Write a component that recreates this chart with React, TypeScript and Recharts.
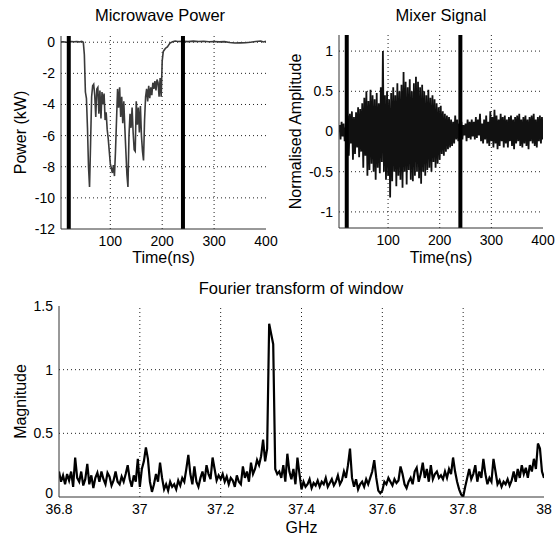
import React from 'react';
import {
  LineChart, Line, XAxis, YAxis, ReferenceLine,
} from 'recharts';

// Microwave power (kW) vs time (ns)
const POWER_T = [
  5, 10, 15, 20, 25, 30, 35, 40, 45, 48, 50, 52, 54, 56, 58, 60, 62, 64, 66, 68,
  70, 72, 74, 76, 78, 80, 82, 84, 86, 88, 90, 92, 94, 96, 98, 100, 102, 104, 106, 108,
  110, 112, 114, 116, 118, 120, 122, 124, 126, 128, 130, 132, 134, 136, 138, 140, 142, 144, 146, 148,
  150, 152, 154, 156, 158, 160, 162, 164, 166, 168, 170, 172, 174, 176, 178, 180, 182, 184, 186, 188,
  190, 192, 194, 196, 198, 200, 202, 204, 206, 208, 210, 212, 215, 220, 225, 230, 240, 250, 260, 270,
  280, 290, 300, 310, 320, 330, 340, 350, 360, 370, 380, 390, 395, 400,
];
const POWER_KW = [
  0.02, 0.03, 0.0, 0.02, 0.05, 0.03, 0.04, 0.02, 0.05, 0.0, -0.8, -3.2, -3.6, -5.5, -8.0, -9.3, -6.5, -3.5, -2.8, -2.7,
  -3.4, -4.8, -3.0, -2.9, -4.6, -3.1, -4.9, -3.2, -4.0, -3.3, -5.0, -4.5, -5.6, -6.2, -7.0, -7.8, -8.1, -8.4, -7.9, -8.6,
  -7.0, -5.0, -3.0, -4.2, -2.9, -4.8, -3.5, -5.2, -3.8, -5.5, -7.0, -8.5, -9.3, -6.0, -4.6, -5.5, -4.2, -5.8, -6.9, -7.0,
  -3.8, -5.3, -4.2, -5.8, -4.1, -6.0, -7.0, -7.6, -5.0, -3.5, -3.0, -3.8, -2.8, -3.6, -2.9, -3.4, -2.6, -3.0, -2.5, -3.1,
  -2.4, -2.6, -3.5, -2.3, -3.5, -1.2, -0.6, -0.5, -0.4, -0.35, -0.3, -0.2, -0.05, 0.03, 0.08, 0.05, 0.06, 0.04, 0.07, 0.05,
  0.06, 0.03, 0.05, 0.02, 0.04, -0.02, -0.05, -0.04, -0.03, 0.0, 0.05, 0.08, 0.02, 0.06,
];

// Mixer signal, sampled every 2 ns from 6 ns
const MIXER_T0 = 6;
const MIXER_DT = 2;
const MIXER_AMP = [
  0.08, -0.1, 0.12, -0.06, 0.1, -0.12, 0.05, -0.09, 0.2, -0.3,
  0.22, -0.15, 0.25, -0.35, 0.18, -0.28, 0.24, -0.2, 0.3, -0.32,
  0.28, -0.25, 0.35, -0.45, 0.42, -0.3, 0.5, -0.55, 0.38, -0.48,
  0.52, -0.4, 0.45, -0.5, 0.4, -0.6, 0.48, -0.45, 0.35, -0.52,
  0.55, -0.38, 1.0, -0.5, 0.45, -0.6, 0.5, -0.55, 0.4, -0.82,
  0.48, -0.62, 0.55, -0.5, 0.45, -0.68, 0.6, -0.55, 0.5, -0.6,
  0.58, -0.7, 0.74, -0.5, 0.62, -0.66, 0.55, -0.48, 0.65, -0.6,
  0.5, -0.62, 0.6, -0.55, 0.68, -0.5, 0.62, -0.58, 0.55, -0.65,
  0.58, -0.5, 0.5, -0.55, 0.45, -0.48, 0.52, -0.45, 0.42, -0.5,
  0.45, -0.38, 0.4, -0.45, 0.35, -0.4, 0.3, -0.35, 0.32, -0.28,
  0.25, -0.3, 0.22, -0.25, 0.2, -0.22, 0.18, -0.2, 0.15, -0.18,
  0.12, -0.15, 0.2, -0.1, 0.15, -0.12, 0.1, -0.08, 0.12, -0.1,
  0.08, -0.05, 0.1, -0.12, 0.15, -0.08, 0.12, -0.1, 0.15, -0.06,
  0.12, -0.1, 0.18, -0.08, 0.15, -0.05, 0.22, -0.12, 0.1, -0.15,
  0.15, -0.1, 0.2, -0.15, 0.12, -0.18, 0.25, -0.12, 0.18, -0.2,
  0.27, -0.15, 0.2, -0.22, 0.15, -0.18, 0.22, -0.12, 0.18, -0.2,
  0.2, -0.15, 0.15, -0.2, 0.18, -0.12, 0.2, -0.18, 0.15, -0.22,
  0.18, -0.15, 0.2, -0.12, 0.22, -0.18, 0.15, -0.2, 0.18, -0.15,
  0.2, -0.18, 0.15, -0.22, 0.18, -0.12, 0.2, -0.15, 0.22, -0.18,
  0.15, -0.2, 0.18, -0.12, 0.2, -0.15, 0.18, -0.1,
];

// FFT magnitude, 36.8 .. 38 GHz in 5 MHz steps
const FFT_F0 = 36.8;
const FFT_DF = 0.005;
const FFT_MAG = [
  0.2, 0.12, 0.17, 0.1, 0.18, 0.13, 0.2, 0.08, 0.31, 0.15,
  0.12, 0.2, 0.09, 0.14, 0.26, 0.1, 0.17, 0.07, 0.15, 0.19,
  0.12, 0.2, 0.14, 0.1, 0.19, 0.16, 0.09, 0.13, 0.2, 0.12,
  0.1, 0.16, 0.12, 0.18, 0.25, 0.14, 0.08, 0.17, 0.12, 0.3,
  0.08, 0.22, 0.28, 0.39, 0.3, 0.12, 0.04, 0.1, 0.18, 0.12,
  0.27, 0.15, 0.06, 0.1, 0.05, 0.12, 0.08, 0.1, 0.06, 0.13,
  0.09, 0.15, 0.12, 0.22, 0.33, 0.18, 0.1, 0.24, 0.12, 0.08,
  0.15, 0.2, 0.12, 0.25, 0.18, 0.14, 0.31, 0.22, 0.13, 0.17,
  0.14, 0.18, 0.12, 0.16, 0.1, 0.15, 0.13, 0.08, 0.17, 0.12,
  0.1, 0.24, 0.15, 0.2, 0.12, 0.27, 0.18, 0.22, 0.29, 0.25,
  0.32, 0.45, 0.28, 0.38, 1.36, 1.28, 1.2, 0.22, 0.18, 0.2,
  0.15, 0.25, 0.12, 0.34, 0.2, 0.14, 0.22, 0.1, 0.31, 0.18,
  0.06, 0.12, 0.08, 0.1, 0.14, 0.07, 0.11, 0.09, 0.13, 0.08,
  0.12, 0.1, 0.15, 0.08, 0.11, 0.14, 0.09, 0.12, 0.17, 0.1,
  0.13, 0.2, 0.15, 0.25, 0.38, 0.15, 0.08, 0.14, 0.06, 0.1,
  0.12, 0.08, 0.14, 0.1, 0.15, 0.2, 0.29, 0.15, 0.05, 0.03,
  0.05, 0.12, 0.1, 0.15, 0.12, 0.09, 0.14, 0.11, 0.13, 0.24,
  0.18, 0.1, 0.07, 0.12, 0.15, 0.1, 0.2, 0.23, 0.12, 0.18,
  0.27, 0.15, 0.22, 0.12, 0.25, 0.14, 0.18, 0.2, 0.15, 0.17,
  0.14, 0.2, 0.15, 0.22, 0.18, 0.31, 0.2, 0.12, 0.06, 0.02,
  0.0, 0.08, 0.15, 0.22, 0.14, 0.18, 0.25, 0.12, 0.2, 0.15,
  0.3, 0.18, 0.1, 0.15, 0.12, 0.3, 0.2, 0.1, 0.13, 0.08,
  0.12, 0.1, 0.14, 0.09, 0.13, 0.2, 0.12, 0.22, 0.15, 0.25,
  0.18, 0.23, 0.15, 0.25, 0.2, 0.3, 0.22, 0.42, 0.38, 0.2,
  0.15,
];

const TIME_TICKS = [100, 200, 300, 400];
const POWER_TICKS = [-12, -10, -8, -6, -4, -2, 0];
const AMP_TICKS = [-1, -0.5, 0, 0.5, 1];
const GHZ_TICKS = [36.8, 37, 37.2, 37.4, 37.6, 37.8, 38];
const MAG_TICKS = [0, 0.5, 1, 1.5];
const WINDOW_EDGES = [20, 240];

const FONT = '"Liberation Sans", Arial, Helvetica, sans-serif';
const tick = { fontSize: 14, fill: '#000', fontFamily: FONT };
const axisLine = { stroke: '#333', strokeWidth: 1 };
const labelStyle = { fontSize: 16, fill: '#000', fontFamily: FONT, textAnchor: 'middle' as const };
const GRID = '#222';
const DASH = '1 3';

const powerData = POWER_T.map((t, i) => ({ t, v: POWER_KW[i] }));
const mixerData = MIXER_AMP.map((v, i) => ({ t: MIXER_T0 + i * MIXER_DT, v }));
const fftData = FFT_MAG.map((v, i) => ({ f: +(FFT_F0 + i * FFT_DF).toFixed(3), v }));

// dotted MATLAB-style grid lines at inner tick values
const gridX = (ticks: number[], lo: number, hi: number) =>
  ticks.filter((t) => t > lo && t < hi).map((t) => (
    <ReferenceLine key={`gx${t}`} x={t} stroke={GRID} strokeDasharray={DASH} strokeWidth={1} />
  ));
const gridY = (ticks: number[], lo: number, hi: number) =>
  ticks.filter((t) => t > lo && t < hi).map((t) => (
    <ReferenceLine key={`gy${t}`} y={t} stroke={GRID} strokeDasharray={DASH} strokeWidth={1} />
  ));

// lifts the "0" label so it clears 36.8 below it, as in the original
const MagTick = ({ x, y, payload }: any) => (
  <text x={x} y={y} dy={payload.value === 0 ? 1 : 5} textAnchor="end"
    fontSize={14} fontFamily={FONT} fill="#000">{payload.value}</text>
);

function Title({ text, left, top, width }: { text: string; left: number; top: number; width: number }) {
  return (
    <div style={{
      position: 'absolute', left, top, width, textAlign: 'center',
      fontFamily: FONT, fontSize: 16.5, lineHeight: '18px', color: '#000', whiteSpace: 'nowrap',
    }}>{text}</div>
  );
}

export default function App() {
  return (
    <div style={{ position: 'absolute', left: 0, top: 0, width: 556, height: 537, background: '#fff' }}>
      <Title text="Microwave Power" left={60} top={6} width={200} />
      <Title text="Mixer Signal" left={341} top={6} width={200} />
      <Title text="Fourier transform of window" left={150} top={279} width={302} />

      <div style={{ position: 'absolute', left: 0, top: 0 }}>
        <LineChart width={280} height={270} data={powerData} margin={{ top: 36, right: 14, bottom: 0, left: 0 }}>
          <XAxis dataKey="t" type="number" domain={[5, 400]} ticks={TIME_TICKS} allowDataOverflow
            height={41} tickSize={0} tickMargin={7} tick={tick} axisLine={axisLine}
            label={{ value: 'Time(ns)', position: 'insideBottom', offset: 7, style: labelStyle }} />
          <YAxis type="number" domain={[-12, 0.4]} ticks={POWER_TICKS} allowDataOverflow
            width={61} tickSize={0} tickMargin={6} tick={tick} axisLine={axisLine}
            label={{ value: 'Power (kW)', angle: -90, position: 'insideLeft', offset: 20, style: labelStyle }} />
          <XAxis xAxisId="top" orientation="top" type="number" domain={[5, 400]} height={0} tick={false} tickLine={false} axisLine={axisLine} />
          <YAxis yAxisId="right" orientation="right" type="number" domain={[0, 1]} width={0} tick={false} tickLine={false} axisLine={axisLine} />
          {gridX(TIME_TICKS, 5, 400)}
          {gridY(POWER_TICKS, -12, 0.4)}
          <Line dataKey="v" stroke="#3a3a3a" strokeWidth={1.6} dot={false} isAnimationActive={false} />
          {WINDOW_EDGES.map((x) => <ReferenceLine key={x} x={x} stroke="#000" strokeWidth={4} />)}
        </LineChart>
      </div>

      <div style={{ position: 'absolute', left: 280, top: 0 }}>
        <LineChart width={276} height={270} data={mixerData} margin={{ top: 35, right: 13, bottom: 0, left: 0 }}>
          <XAxis dataKey="t" type="number" domain={[5, 400]} ticks={TIME_TICKS} allowDataOverflow
            height={42} tickSize={0} tickMargin={7} tick={tick} axisLine={axisLine}
            label={{ value: 'Time(ns)', position: 'insideBottom', offset: 7, style: labelStyle }} />
          <YAxis type="number" domain={[-1.2, 1.2]} ticks={AMP_TICKS} allowDataOverflow
            width={59} tickSize={0} tickMargin={6} tick={tick} axisLine={axisLine}
            label={{ value: 'Normalised Amplitude', angle: -90, position: 'insideLeft', offset: 15, style: labelStyle }} />
          <XAxis xAxisId="top" orientation="top" type="number" domain={[5, 400]} height={0} tick={false} tickLine={false} axisLine={axisLine} />
          <YAxis yAxisId="right" orientation="right" type="number" domain={[0, 1]} width={0} tick={false} tickLine={false} axisLine={axisLine} />
          {gridX(TIME_TICKS, 5, 400)}
          {gridY(AMP_TICKS, -1.2, 1.2)}
          <Line dataKey="v" stroke="#111" strokeWidth={1.8} dot={false} isAnimationActive={false} />
          {WINDOW_EDGES.map((x) => <ReferenceLine key={x} x={x} stroke="#000" strokeWidth={4} />)}
        </LineChart>
      </div>

      <div style={{ position: 'absolute', left: 0, top: 270 }}>
        <LineChart width={556} height={267} data={fftData} margin={{ top: 36, right: 12, bottom: 0, left: 0 }}>
          <XAxis dataKey="f" type="number" domain={[36.8, 38]} ticks={GHZ_TICKS} allowDataOverflow
            height={40} tickSize={0} tickMargin={7} tick={tick} axisLine={axisLine}
            label={{ value: 'GHz', position: 'insideBottom', offset: 4, style: labelStyle }} />
          <YAxis type="number" domain={[0, 1.5]} ticks={MAG_TICKS} allowDataOverflow
            width={59} tickSize={0} tickMargin={6} tick={<MagTick />} axisLine={axisLine}
            label={{ value: 'Magnitude', angle: -90, position: 'insideLeft', offset: 20, style: labelStyle }} />
          <XAxis xAxisId="top" orientation="top" type="number" domain={[36.8, 38]} height={0} tick={false} tickLine={false} axisLine={axisLine} />
          <YAxis yAxisId="right" orientation="right" type="number" domain={[0, 1]} width={0} tick={false} tickLine={false} axisLine={axisLine} />
          {gridX(GHZ_TICKS, 36.8, 38)}
          {gridY(MAG_TICKS, 0, 1.5)}
          <Line dataKey="v" stroke="#000" strokeWidth={2.2} dot={false} isAnimationActive={false} />
        </LineChart>
      </div>
    </div>
  );
}
